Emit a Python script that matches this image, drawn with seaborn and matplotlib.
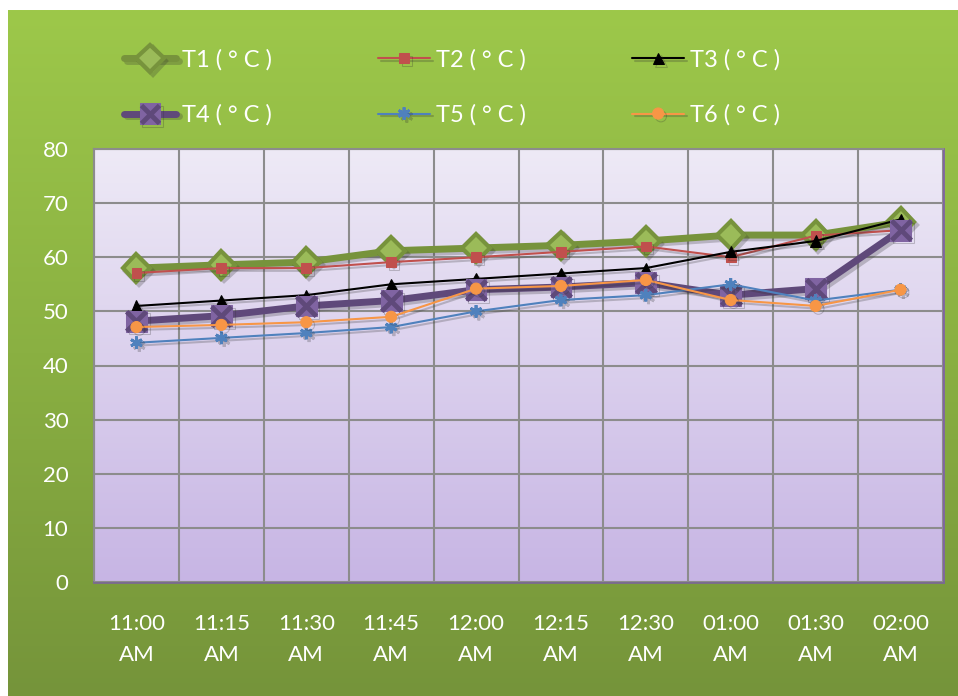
import numpy as np
import pandas as pd
import seaborn as sns
import matplotlib
matplotlib.use("Agg")
import matplotlib.pyplot as plt
from matplotlib import patheffects as pe
from matplotlib.colors import LinearSegmentedColormap
from matplotlib.legend_handler import HandlerTuple
from matplotlib.lines import Line2D

times = ["11:00\nAM", "11:15\nAM", "11:30\nAM", "11:45\nAM", "12:00\nAM",
         "12:15\nAM", "12:30\nAM", "01:00\nAM", "01:30\nAM", "02:00\nAM"]
t1 = [58.0, 58.6, 59.1, 61.2, 61.7, 62.2, 63.0, 64.1, 64.1, 66.5]
t2 = [57.1, 58.0, 58.0, 59.1, 60.0, 61.0, 62.0, 60.0, 64.0, 65.0]
t3 = [51.0, 52.0, 53.0, 55.0, 56.0, 57.0, 58.0, 61.0, 63.0, 67.0]
t4 = [48.2, 49.2, 51.0, 52.0, 54.0, 54.5, 55.3, 53.0, 54.2, 65.0]
t5 = [44.2, 45.1, 46.0, 47.1, 50.0, 52.1, 53.0, 55.0, 52.0, 54.0]
t6 = [47.1, 47.5, 48.0, 49.0, 54.2, 54.7, 55.8, 52.1, 51.0, 54.0]
labels = ["T1 ( ° C )", "T2 ( ° C )", "T3 ( ° C )", "T4 ( ° C )", "T5 ( ° C )", "T6 ( ° C )"]

sns.set_theme(style="white")
plt.rcParams['font.family'] = ['Lato', 'DejaVu Sans']

W, H = 958, 696
fig = plt.figure(figsize=(W / 100, H / 100), dpi=100)
fig.patch.set_facecolor('white')

# green gradient panel
grad = np.linspace(0, 1, 256).reshape(-1, 1)
bg = fig.add_axes([8 / W, 0, (W - 8) / W, (H - 10) / H], zorder=-10)
cmap_g = LinearSegmentedColormap.from_list('g', ['#9DC84A', '#8AB042', '#75943A'])
bg.imshow(grad, cmap=cmap_g, aspect='auto', extent=[0, 1, 0, 1], origin='upper')
bg.axis('off')

ax = fig.add_axes([94 / W, 1 - 582 / H, 849 / W, 433 / H])
cmap_p = LinearSegmentedColormap.from_list('p', ['#EEEAF6', '#C7B5E4'])
ax.imshow(grad, cmap=cmap_p, aspect='auto', extent=[-0.5, 9.5, 0, 80],
          origin='upper', zorder=0)

x = np.arange(len(times))
shadow = [pe.SimpleLineShadow(offset=(2, -2), alpha=0.25, shadow_color='#303030'), pe.Normal()]

sns.lineplot(x=x, y=t1, ax=ax, color='#77933C', linewidth=5, marker='D', markersize=14,
             markerfacecolor='#9BBB59', markeredgecolor='#77933C', markeredgewidth=3,
             label=labels[0], zorder=3)
sns.lineplot(x=x, y=t2, ax=ax, color='#C0504D', linewidth=1.5, marker='s', markersize=7,
             markerfacecolor='#C0504D', markeredgecolor='#C0504D', label=labels[1], zorder=3)
sns.lineplot(x=x, y=t3, ax=ax, color='black', linewidth=1.5, marker='^', markersize=8,
             markerfacecolor='black', markeredgecolor='black', label=labels[2], zorder=3)
sns.lineplot(x=x, y=t4, ax=ax, color='#5F497A', linewidth=5, marker='s', markersize=15,
             markerfacecolor='#8064A2', markeredgecolor='#8064A2', label=labels[3], zorder=3)
sns.scatterplot(x=x, y=t4, ax=ax, marker='x', s=200, color='#5F497A', linewidth=3.5,
                zorder=3.5, legend=False)
sns.lineplot(x=x, y=t5, ax=ax, color='#4F81BD', linewidth=1.5, marker=(6, 2, 0), markersize=9,
             markeredgewidth=2, markeredgecolor='#4F81BD', label=labels[4], zorder=4)
sns.lineplot(x=x, y=t6, ax=ax, color='#F79646', linewidth=1.5, marker='o', markersize=8,
             markerfacecolor='#F79646', markeredgecolor='#F79646', label=labels[5], zorder=4)

for ln in ax.lines:
    ln.set_path_effects(shadow)

handles, labs = ax.get_legend_handles_labels()
ax.get_legend().remove()
xmark = Line2D([], [], linestyle='none', marker='x', markersize=13, markeredgewidth=3.5,
               color='#5F497A')
hmap = dict(zip(labs, handles))
order = [labels[0], labels[3], labels[1], labels[4], labels[2], labels[5]]
hs = []
for lb in order:
    if lb == labels[3]:
        hs.append((hmap[lb], xmark))
    else:
        hs.append(hmap[lb])
fig.legend(hs, order, ncol=3, loc='upper left', bbox_to_anchor=(124 / W, 1 - 49 / H),
           frameon=False, fontsize=17, labelcolor='white', handlelength=2.2,
           handletextpad=0.25, columnspacing=4.5, labelspacing=1.43, borderpad=0,
           borderaxespad=0, handler_map={tuple: HandlerTuple(ndivide=1, pad=0)})

ax.set_xlim(-0.5, 9.5)
ax.set_ylim(0, 80)
ax.set_yticks(np.arange(0, 81, 10))
ax.set_xticks(x)
ax.set_xticklabels(times)
ax.set_xticks(np.arange(-0.5, 10, 1), minor=True)
for lbl in ax.get_xticklabels():
    lbl.set_linespacing(1.7)
ax.tick_params(axis='x', which='major', length=0, pad=23, labelsize=16, labelcolor='white')
ax.tick_params(axis='x', which='minor', length=7, width=1.2, color='#8C8C8C', direction='out')
ax.tick_params(axis='y', which='major', length=6.5, width=1.2, color='#8C8C8C', direction='out',
               pad=12, labelsize=16, labelcolor='white')
ax.grid(which='minor', axis='x', color='#8C8C8C', linewidth=1.5, zorder=1)
ax.grid(which='major', axis='y', color='#8C8C8C', linewidth=1.5, zorder=1)
ax.set_axisbelow(False)
for s in ['top', 'left']:
    ax.spines[s].set_color('#8C8C8C')
    ax.spines[s].set_linewidth(1.5)
ax.spines['right'].set_color('#8064A2')
ax.spines['right'].set_linewidth(2)
ax.spines['bottom'].set_color('#7A6A90')
ax.spines['bottom'].set_linewidth(2)
ax.set_xlabel('')
ax.set_ylabel('')

fig.savefig('out.png', dpi=100)
